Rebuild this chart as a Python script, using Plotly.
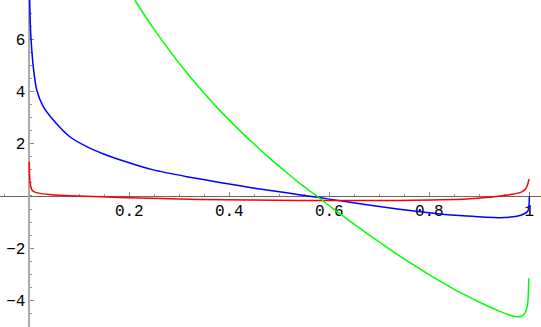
import plotly.graph_objects as go

# values
blue_x = [0.0006, 0.002, 0.0034, 0.008, 0.015, 0.028, 0.048, 0.081, 0.115, 0.15,
          0.181, 0.248, 0.315, 0.381, 0.45, 0.515, 0.565, 0.6, 0.675, 0.74,
          0.808, 0.875, 0.941, 0.975, 0.99, 0.997, 0.9995, 1.0]
blue_y = [7.55, 6.6, 6.03, 4.94, 4.05, 3.42, 2.91, 2.27, 1.89, 1.6,
          1.39, 1.0, 0.74, 0.52, 0.3, 0.12, -0.02, -0.12, -0.34, -0.51,
          -0.66, -0.77, -0.83, -0.78, -0.68, -0.58, -0.35, -0.02]

red_x = [0.0, 0.0005, 0.002, 0.005, 0.01, 0.021, 0.04, 0.061, 0.1, 0.18,
         0.34, 0.54, 0.74, 0.875, 0.92, 0.941, 0.96, 0.975, 0.985, 0.993,
         0.997, 0.9995]
red_y = [1.3, 0.8, 0.45, 0.24, 0.16, 0.1, 0.06, 0.03, 0.0, -0.06,
         -0.13, -0.17, -0.17, -0.12, -0.05, 0.0, 0.05, 0.1, 0.16, 0.28,
         0.46, 0.65]

green_x = [0.211, 0.248, 0.28, 0.315, 0.35, 0.381, 0.415, 0.449, 0.48, 0.515,
           0.541, 0.575, 0.608, 0.641, 0.675, 0.708, 0.741, 0.775, 0.808, 0.841,
           0.875, 0.908, 0.941, 0.96, 0.975, 0.985, 0.991, 0.995, 0.997, 0.999]
green_y = [7.5, 6.43, 5.58, 4.72, 3.93, 3.28, 2.62, 2.0, 1.46, 0.89,
           0.48, 0.0, -0.49, -0.96, -1.43, -1.87, -2.3, -2.72, -3.11, -3.48,
           -3.83, -4.14, -4.42, -4.56, -4.63, -4.6, -4.5, -4.3, -4.1, -3.15]

x_ticks = [0.2, 0.4, 0.6, 0.8, 1.0]
x_labels = ["0.2", "0.4", "0.6", "0.8", "1"]
y_ticks = [-4, -2, 2, 4, 6]
y_labels = ["\u22124", "\u22122", "2", "4", "6"]

x_range = [-0.0586, 1.0234]
y_range = [-5.02, 7.51]

fig = go.Figure()
for xs, ys, col in [(blue_x, blue_y, "#0000ff"),
                    (red_x, red_y, "#ff0000"),
                    (green_x, green_y, "#00ff00")]:
    fig.add_trace(go.Scatter(x=xs, y=ys, mode="lines",
                             line=dict(color=col, width=1.5,
                                       shape="spline", smoothing=0.6)))

# axes cross at the origin, like the original
x_pos = (0 - y_range[0]) / (y_range[1] - y_range[0])
y_pos = (0 - x_range[0]) / (x_range[1] - x_range[0])

tick_font = dict(family="Liberation Mono", size=16, color="#000000")

fig.update_layout(
    width=541, height=327,
    margin=dict(l=0, r=0, t=0, b=0, pad=0, autoexpand=False),
    paper_bgcolor="white", plot_bgcolor="white",
    showlegend=False,
    xaxis=dict(range=x_range, anchor="free", position=x_pos, automargin=False,
               showgrid=False, zeroline=False, layer="below traces",
               showline=True, linecolor="#666666", linewidth=1,
               tickvals=x_ticks, ticktext=x_labels,
               ticks="inside", ticklen=4, tickcolor="#888888",
               minor=dict(ticks="inside", dtick=0.05, ticklen=2, tickcolor="#999999"),
               tickfont=tick_font),
    yaxis=dict(range=y_range, anchor="free", position=y_pos, automargin=False,
               showgrid=False, zeroline=False, layer="below traces",
               showline=True, linecolor="#aaaaaa", linewidth=1.5,
               tickvals=y_ticks, ticktext=y_labels,
               ticks="inside", ticklen=4, tickcolor="#888888",
               minor=dict(ticks="inside", dtick=0.5, ticklen=2, tickcolor="#999999"),
               tickfont=tick_font),
)

# page body has a default 8px margin; drop it so the chart sits at 0,0
fig.write_html("out.html", config={"displayModeBar": False},
               post_script="document.body.style.margin='0';")
